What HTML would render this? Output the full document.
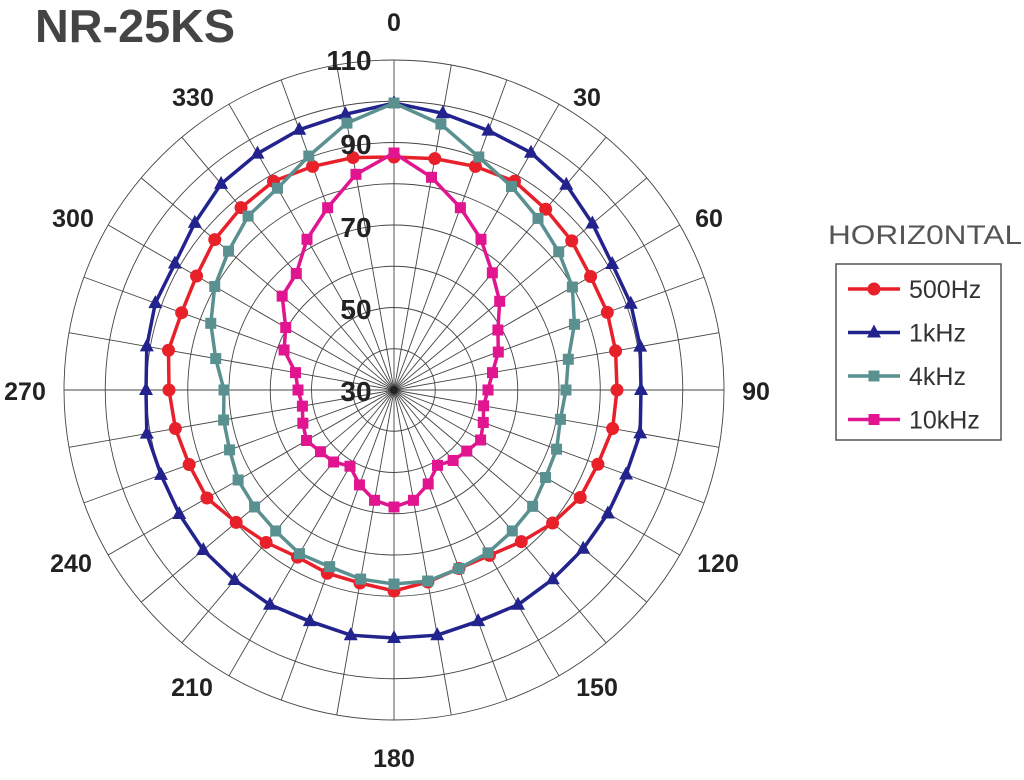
<!DOCTYPE html>
<html><head><meta charset="utf-8"><style>
html,body{margin:0;padding:0;background:#fff;}
svg{display:block;}
</style></head><body>
<svg id="s" width="1024" height="780" xmlns="http://www.w3.org/2000/svg" font-family="Liberation Sans, Arial, sans-serif">
<rect width="1024" height="780" fill="#fff"/>
<g id="grid" stroke="#444" stroke-width="0.9" fill="none"></g>
<g id="series"></g>
<g font-weight="bold" font-size="25" fill="#222" text-anchor="middle">
<text x="394" y="31">0</text>
<text x="587" y="106">30</text>
<text x="709" y="227">60</text>
<text x="756" y="400">90</text>
<text x="718" y="572">120</text>
<text x="597" y="696">150</text>
<text x="394" y="767">180</text>
<text x="192" y="696">210</text>
<text x="71" y="572">240</text>
<text x="25" y="400">270</text>
<text x="73" y="227">300</text>
<text x="193" y="106">330</text>
</g>
<g font-weight="bold" font-size="28" fill="#222" text-anchor="middle">
<text x="349" y="70">110</text>
<text x="356" y="154">90</text>
<text x="356" y="237">70</text>
<text x="356" y="319">50</text>
<text x="356" y="401">30</text>
</g>
<text x="35" y="42" font-size="46" font-weight="bold" fill="#444" textLength="200" lengthAdjust="spacingAndGlyphs">NR-25KS</text>
<text x="828" y="244" font-size="27" fill="#555" textLength="194" lengthAdjust="spacingAndGlyphs">HORIZ0NTAL</text>
<rect x="836" y="264" width="165" height="176" fill="#fff" stroke="#555" stroke-width="1.5"/>
<g id="legend" font-size="25" fill="#333"></g>
</svg>
<script>
var cx=394,cy=390,NS="http://www.w3.org/2000/svg";
function el(t,a,p){var e=document.createElementNS(NS,t);for(var k in a)e.setAttribute(k,a[k]);p.appendChild(e);return e;}
var g=document.getElementById('grid');
for(var i=1;i<=8;i++)el('circle',{cx:cx,cy:cy,r:i*41.25},g);
for(var a=0;a<360;a+=10){var t=a*Math.PI/180;el('line',{x1:cx,y1:cy,x2:cx+330*Math.sin(t),y2:cy-330*Math.cos(t)},g);}
el('circle',{cx:cx,cy:cy,r:4,fill:'#222',stroke:'none'},g);
var D={
r:[233,235,238,241,236,232,227,227,225,223,222,217,215,207,198,191,190,195,201,196,195,193,199,206,216,218,222,225,229,226,228,234,238,241,238,236],
b:[287,281,276,274,268,259,252,252,250,247,250,247,247,247,247,248,246,249,248,249,246,248,248,249,248,248,251,248,251,254,253,260,269,273,277,280],
t:[287,270,248,235,224,215,206,192,177,172,169,173,175,181,184,188,190,194,194,192,188,189,184,182,180,175,173,170,181,195,207,216,227,233,249,271],
m:[237,216,194,174,153,138,120,111,100,94,91,95,100,95,92,87,100,112,117,112,101,88,94,96,101,97,93,96,100,117,125,146,152,174,194,219]};
var S=[['r','#e8202a','c'],['b','#23238e','t'],['t','#5a9090','s'],['m','#e0158f','s']];
var sg=document.getElementById('series');
function mark(type,x,y,col,p){
 if(type=='c')el('circle',{cx:x,cy:y,r:6.5,fill:col},p);
 else if(type=='t')el('polygon',{points:(x)+','+(y-8)+' '+(x-7)+','+(y+5)+' '+(x+7)+','+(y+5),fill:col},p);
 else el('rect',{x:x-5.5,y:y-5.5,width:11,height:11,fill:col},p);
}
S.forEach(function(s){
 var pts=D[s[0]].map(function(r,i){var t=i*10*Math.PI/180;return [cx+r*Math.sin(t),cy-r*Math.cos(t)];});
 el('polygon',{points:pts.map(function(p){return p[0].toFixed(1)+','+p[1].toFixed(1)}).join(' '),fill:'none',stroke:s[1],'stroke-width':3.5},sg);
 pts.forEach(function(p){mark(s[2],p[0],p[1],s[1],sg);});
});
var lg=document.getElementById('legend');
var names=['500Hz','1kHz','4kHz','10kHz'];
S.forEach(function(s,i){var y=289+i*43.5;
 el('line',{x1:848,y1:y,x2:900,y2:y,stroke:s[1],'stroke-width':3.5},lg);
 mark(s[2],874,y,s[1],lg);
 var tx=el('text',{x:909,y:y+9},lg);tx.textContent=names[i];});
</script>
</body></html>
